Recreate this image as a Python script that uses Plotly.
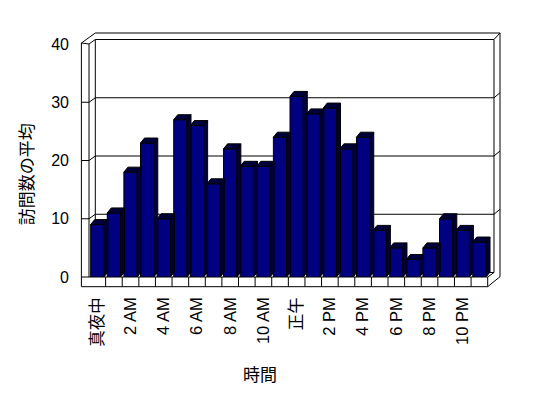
import plotly.graph_objects as go

# ---- data ----
hours = list(range(24))
visits = [9, 11, 18, 23, 10, 27, 26, 16, 22, 19, 19, 24,
          31, 28, 29, 22, 24, 8, 5, 3, 5, 10, 8, 6]
tick_pos = [0, 2, 4, 6, 8, 10, 12, 14, 16, 18, 20, 22]
tick_text = ["真夜中", "2 AM", "4 AM", "6 AM", "8 AM", "10 AM",
             "正午", "2 PM", "4 PM", "6 PM", "8 PM", "10 PM"]
y_ticks = [0, 10, 20, 30, 40]
x_title = "時間"
y_title = "訪問数の平均"

# ---- geometry (pixels, in window coordinates) ----
OFF = 8                          # default body margin of the page
W, H = 548 - OFF, 398 - OFF
L, PR, T, B = 89.3, 500.0, 44.0, 277.0
CW = 16.6                       # category width px
YMAX = 40
UPX = (B - T) / YMAX            # px per unit
BAR_W = 0.8
DX, DY = 4.0, 5.0               # bar depth px
WDX, WDY = 6.3, 4.5             # wall depth px
OX_L, OY_T, OY_B = 81.7, 33.0, 286.7
R_IN = L + 24 * CW              # front right edge

xmax = -0.5 + (PR - L) / CW


def px(x):
    return (x - L) / (PR - L)


def py(y):
    return (B - y) / (B - T)


def yf(v):
    return B - v * UPX


shapes = []


def line(x0, y0, x1, y1, layer="below"):
    shapes.append(dict(type="line", xref="paper", yref="paper",
                       x0=px(x0), y0=py(y0), x1=px(x1), y1=py(y1),
                       line=dict(color="black", width=1), layer=layer))


# back wall inner face
bl, br = L + WDX, R_IN + WDX
bt, bb = T - WDY, B - WDY
line(bl, bt, br, bt)
line(bl, bt, bl, bb)
line(br, bt, br, bb)
line(bl, bb, br, bb)
# outer top and right of back wall slab
line(bl, OY_T, PR, OY_T)
line(PR, OY_T, PR, OY_B - 10)
line(br, bt, PR, OY_T)
# left wall slab
line(OX_L, T - 1, OX_L, OY_B)
line(L, T, L, B)
line(OX_L, T - 1, L, T)
line(OX_L, T - 1, bl, OY_T)
line(L, T, bl, bt)
# gridlines on walls
for v in y_ticks[1:-1]:
    yb = yf(v) - WDY
    line(OX_L, yf(v), L, yf(v))
    line(L, yf(v), bl, yb)
    line(bl, yb, br, yb)
    line(br, yb, PR, yb - 5)
line(OX_L, B, L, B)
# floor slab
line(L, B, R_IN, B)
line(OX_L, OY_B, R_IN, OY_B)
line(R_IN, B, R_IN, OY_B)
line(R_IN, B, br, bb)
line(R_IN, OY_B, PR, OY_B - 10)
for k in range(1, 24):
    xk = L + k * CW
    line(xk, B, xk, OY_B)

# ---- 3D side/top faces from data ----
ddx = DX / CW
ddy = DY / UPX
sx, sy = [], []
for h, v in zip(hours, visits):
    r = h + BAR_W / 2
    l = h - BAR_W / 2
    sx += [r, r + ddx, r + ddx, r, r, None]
    sy += [0, ddy, v + ddy, v, 0, None]
    sx += [l, l + ddx, r + ddx, r, l, None]
    sy += [v, v + ddy, v + ddy, v, v, None]

fig = go.Figure()
fig.add_trace(go.Bar(x=hours, y=visits, width=BAR_W,
                     marker=dict(color="#000080",
                                 line=dict(color="black", width=1)),
                     hoverinfo="skip"))
fig.add_trace(go.Scatter(x=sx, y=sy, mode="lines", fill="toself",
                         fillcolor="#00003a",
                         line=dict(color="black", width=1),
                         hoverinfo="skip"))

FONT = "Liberation Sans, Arial, Noto Sans CJK JP, sans-serif"

fig.update_layout(
    width=W, height=H,
    margin=dict(l=L - OFF, r=548 - PR, t=T - OFF, b=398 - B, pad=0),
    paper_bgcolor="white", plot_bgcolor="rgba(0,0,0,0)",
    showlegend=False,
    font=dict(family=FONT, size=15, color="black"),
    shapes=shapes,
    xaxis=dict(range=[-0.5, xmax], tickmode="array", tickvals=tick_pos,
               ticktext=tick_text, tickangle=-90, showgrid=False,
               zeroline=False, showline=False, ticks="",
               ticklabelstandoff=16, tickfont=dict(size=16.5)),
    yaxis=dict(range=[0, YMAX], tickvals=y_ticks, showgrid=False,
               zeroline=False, showline=False, ticks="",
               ticklabelstandoff=19, tickfont=dict(size=16)),
    annotations=[
        dict(text=x_title, xref="paper", yref="paper", x=px(260),
             y=py(375), showarrow=False, font=dict(size=17),
             xanchor="center", yanchor="middle"),
        dict(text=y_title, xref="paper", yref="paper", x=px(28),
             y=py(174.6), showarrow=False, font=dict(size=17),
             textangle=-90, xanchor="center", yanchor="middle"),
    ],
)

fig.write_html("out.html")
